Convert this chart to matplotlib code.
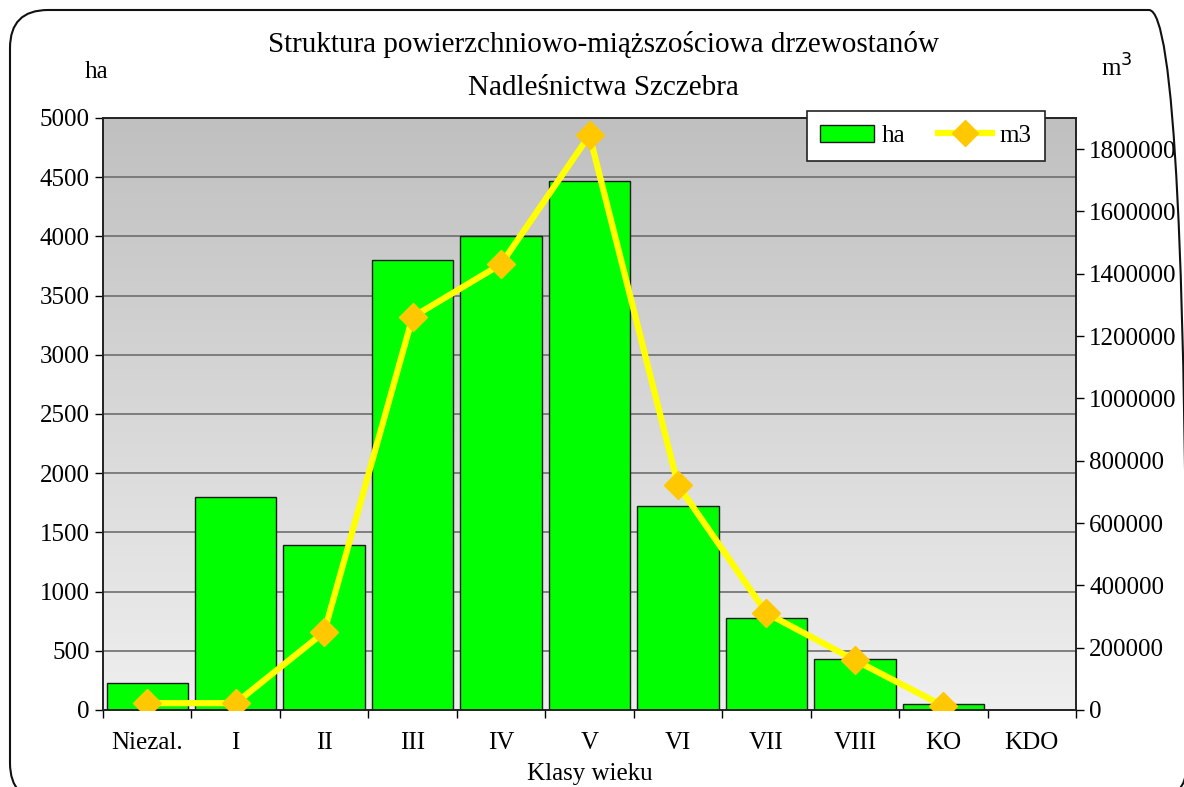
import matplotlib
matplotlib.use('Agg')
import matplotlib.pyplot as plt
import numpy as np
from matplotlib.patches import FancyBboxPatch, Rectangle
from matplotlib.lines import Line2D
from matplotlib.ticker import FuncFormatter
from matplotlib.transforms import IdentityTransform

plt.rcParams['font.family'] = ['Liberation Serif', 'DejaVu Serif']
plt.rcParams['font.size'] = 18

categories = ['Niezal.', 'I', 'II', 'III', 'IV', 'V', 'VI', 'VII', 'VIII', 'KO', 'KDO']
area_ha = [230, 1800, 1395, 3800, 4000, 4468, 1723, 777, 431, 50, 0]
volume_m3 = [22000, 22000, 250000, 1261000, 1431000, 1845000, 722000, 311000, 160000, 13000, np.nan]

fig = plt.figure(figsize=(11.84, 7.87), dpi=100)
ax = fig.add_axes([103/1184, 1 - 710/787, 973/1184, 592/787])
ax2 = ax.twinx()

# tło z gradientem
grad = np.linspace(0, 1, 256).reshape(-1, 1)
ax.imshow(grad, aspect='auto', cmap=matplotlib.colors.LinearSegmentedColormap.from_list(
    'g', ['#efefef', '#c0c0c0']), extent=[-0.5, 10.5, 0, 5000], origin='lower', zorder=0)

x = np.arange(len(categories))
for yv in range(500, 5000, 500):
    ax.axhline(yv, color='#6e6e6e', lw=1.2, zorder=1)
ax.bar(x, area_ha, width=0.92, color='#00ff00', edgecolor='#1a1a1a', lw=1.0, zorder=2)

ax.set_xlim(-0.5, 10.5)
ax.set_ylim(0, 5000)
ax.set_yticks(range(0, 5001, 500))
ax.set_xticks(x)
ax.set_xticklabels(categories)
ax.set_xticks(np.arange(-0.5, 11, 1), minor=True)
ax.tick_params(axis='x', which='major', length=0, pad=16)
ax.tick_params(axis='x', which='minor', length=6, direction='out', width=1)
ax.tick_params(axis='y', length=6, direction='out', width=1)
ax.set_xlabel('Klasy wieku', fontsize=18, labelpad=6)

ax2.plot(x, volume_m3, color='#ffff00', lw=4.5, marker='D', ms=14,
         mfc='#ffc800', mec='#ffc800', zorder=5)
ax2.set_ylim(0, 1900000)
ax2.set_yticks(range(0, 1900001, 200000))
ax2.yaxis.set_major_formatter(FuncFormatter(lambda v, p: f'{int(v)}'))
ax2.tick_params(axis='y', length=6, direction='out', width=1)
ax2.set_zorder(ax.get_zorder() + 1)
ax2.patch.set_visible(False)

for a in (ax, ax2):
    for s in a.spines.values():
        s.set_linewidth(1.2)
        s.set_color('#222222')

fig.text(603/1184, 1 - 45/787, 'Struktura powierzchniowo-miąższościowa drzewostanów',
         ha='center', va='center', fontsize=21)
fig.text(603/1184, 1 - 88/787, 'Nadleśnictwa Szczebra', ha='center', va='center', fontsize=21)
fig.text(97/1184, 1 - 72/787, 'ha', ha='center', va='center', fontsize=18)
fig.text(1117/1184, 1 - 68/787, 'm$^{3}$', ha='center', va='center', fontsize=18)

handles = [Rectangle((0, 0), 1, 1, fc='#00ff00', ec='#1a1a1a'),
           Line2D([], [], color='#ffff00', lw=4.5, marker='D', ms=13,
                  mfc='#ffc800', mec='#ffc800')]
leg = ax2.legend(handles, ['ha', 'm3'], loc='upper right', bbox_to_anchor=(0.968, 1.012),
                 borderaxespad=0, ncol=2, frameon=True, fancybox=False,
                 edgecolor='#222222', facecolor='white', framealpha=1,
                 fontsize=18, handlelength=2.15, columnspacing=1.3, borderpad=0.55,
                 handletextpad=0.3)
leg.get_frame().set_linewidth(1.2)

# zaokrąglona ramka wokół wykresu (w pikselach)
frame = FancyBboxPatch((10, -14), 1177, 787 - 10 + 14,
                       boxstyle='round,pad=0,rounding_size=38',
                       transform=IdentityTransform(), fc='none', ec='#111111', lw=1.5)
fig.patches.append(frame)

fig.savefig('out.png', dpi=100)
